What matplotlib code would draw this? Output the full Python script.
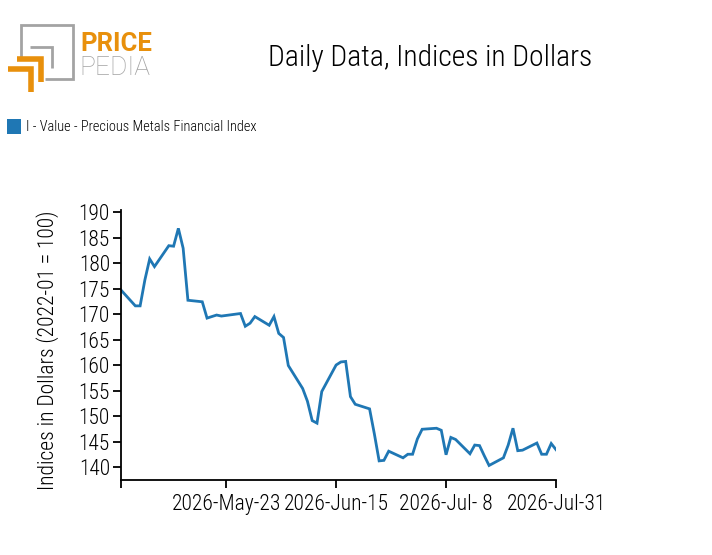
import matplotlib
matplotlib.use('Agg')
import matplotlib.pyplot as plt
from matplotlib.patches import Rectangle
from matplotlib.lines import Line2D
import datetime as dt

FONT = ['Roboto Condensed', 'Liberation Sans Narrow', 'Roboto', 'DejaVu Sans']
plt.rcParams['font.family'] = FONT
plt.rcParams['font.weight'] = 'light'

title = 'Daily Data, Indices in Dollars'
series_name = 'I - Value - Precious Metals Financial Index'
y_label = 'Indices in Dollars (2022-01 = 100)'

dates = ['2026-05-01', '2026-05-04', '2026-05-05', '2026-05-06', '2026-05-07', '2026-05-08',
         '2026-05-11', '2026-05-12', '2026-05-13', '2026-05-14', '2026-05-15',
         '2026-05-18', '2026-05-19', '2026-05-20', '2026-05-21', '2026-05-22',
         '2026-05-26', '2026-05-27', '2026-05-28', '2026-05-29',
         '2026-06-01', '2026-06-02', '2026-06-03', '2026-06-04', '2026-06-05',
         '2026-06-08', '2026-06-09', '2026-06-10', '2026-06-11', '2026-06-12',
         '2026-06-15', '2026-06-16', '2026-06-17', '2026-06-18', '2026-06-19',
         '2026-06-22', '2026-06-23', '2026-06-24', '2026-06-25', '2026-06-26',
         '2026-06-29', '2026-06-30', '2026-07-01', '2026-07-02', '2026-07-03',
         '2026-07-06', '2026-07-07', '2026-07-08', '2026-07-09', '2026-07-10',
         '2026-07-13', '2026-07-14', '2026-07-15', '2026-07-16', '2026-07-17',
         '2026-07-20', '2026-07-21', '2026-07-22', '2026-07-23', '2026-07-24',
         '2026-07-27', '2026-07-28', '2026-07-29', '2026-07-30', '2026-07-31']
values = [174.7, 171.6, 171.6, 176.7, 180.8, 179.3,
          183.4, 183.3, 186.8, 182.9, 172.7,
          172.4, 169.2, 169.5, 169.8, 169.6,
          170.1, 167.6, 168.2, 169.5,
          167.8, 169.5, 166.2, 165.4, 159.9,
          155.4, 152.9, 149.1, 148.6, 154.8,
          160.0, 160.6, 160.7, 153.8, 152.3,
          151.4, 146.5, 141.2, 141.3, 143.1,
          141.8, 142.5, 142.5, 145.5, 147.4,
          147.6, 147.2, 142.4, 145.8, 145.4,
          142.6, 144.3, 144.2, 142.2, 140.3,
          141.8, 144.3, 147.6, 143.2, 143.3,
          144.7, 142.5, 142.5, 144.6, 143.4]

x_ticks = ['2026-05-01', '2026-05-23', '2026-06-15', '2026-07-08', '2026-07-31']
x_tick_labels = ['', '2026-May-23', '2026-Jun-15', '2026-Jul- 8', '2026-Jul-31']
y_ticks = list(range(140, 191, 5))

x = [dt.datetime.strptime(d, '%Y-%m-%d') for d in dates]
xt = [dt.datetime.strptime(d, '%Y-%m-%d') for d in x_ticks]

W, H = 712, 555
fig = plt.figure(figsize=(W / 100, H / 100), dpi=100)

# axes in pixel box
left, right, top, bottom = 121, 556, 210, 480
ax = fig.add_axes([left / W, 1 - bottom / H, (right - left) / W, (bottom - top) / H])
ax.plot(x, values, color='#1f77b4', lw=2.0, solid_joinstyle='miter')
ax.set_xlim(xt[0], xt[-1])
ax.set_ylim(137.45, 190.4)
ax.set_xticks(xt)
ax.set_xticklabels(x_tick_labels)
ax.set_yticks(y_ticks)
for s in ['top', 'right']:
    ax.spines[s].set_visible(False)
for s in ['left', 'bottom']:
    ax.spines[s].set_linewidth(1.3)
ax.tick_params(axis='both', length=6, width=1.3, labelsize=15.5, pad=2, colors='black')
ax.tick_params(axis='x', pad=4)
ax.set_ylabel(y_label, fontsize=15.5, fontweight='light')
ax.yaxis.set_label_coords(-0.142, 0.48)

fig.text(430 / W, 1 - 58 / H, title, fontsize=21.3, ha='center', va='center')

# legend
fig.patches.append(Rectangle((7 / W, 1 - 134 / H), 14 / W, 15 / H, transform=fig.transFigure,
                             facecolor='#1f77b4', edgecolor='none'))
fig.text(26 / W, 1 - 127 / H, series_name, fontsize=10.4, ha='left', va='center')

# logo
gray = '#a3a3a3'
orange = '#e8900c'
def px_line(xs, ys, c, lw):
    fig.lines.append(Line2D([v / W for v in xs], [1 - v / H for v in ys],
                            transform=fig.transFigure, color=c, lw=lw,
                            solid_joinstyle='miter', solid_capstyle='butt'))
px_line([21, 21, 73, 73, 45], [58, 25, 25, 79, 79], gray, 2.0)
px_line([30, 52, 52], [47, 47, 68], gray, 2.0)
px_line([17, 41, 41], [59, 59, 82], orange, 4.0)
px_line([8, 31, 31], [69, 69, 92], orange, 4.0)
fig.text(80 / W, 1 - 51 / H, 'PRICE', fontsize=18.5, fontweight='bold', color=orange,
         ha='left', va='baseline', family=['Roboto', 'DejaVu Sans'])
fig.text(79 / W, 1 - 75 / H, 'PEDIA', fontsize=19, fontweight='light', color=gray,
         ha='left', va='baseline', family=['Roboto', 'DejaVu Sans'])

fig.savefig('out.png', dpi=100)
